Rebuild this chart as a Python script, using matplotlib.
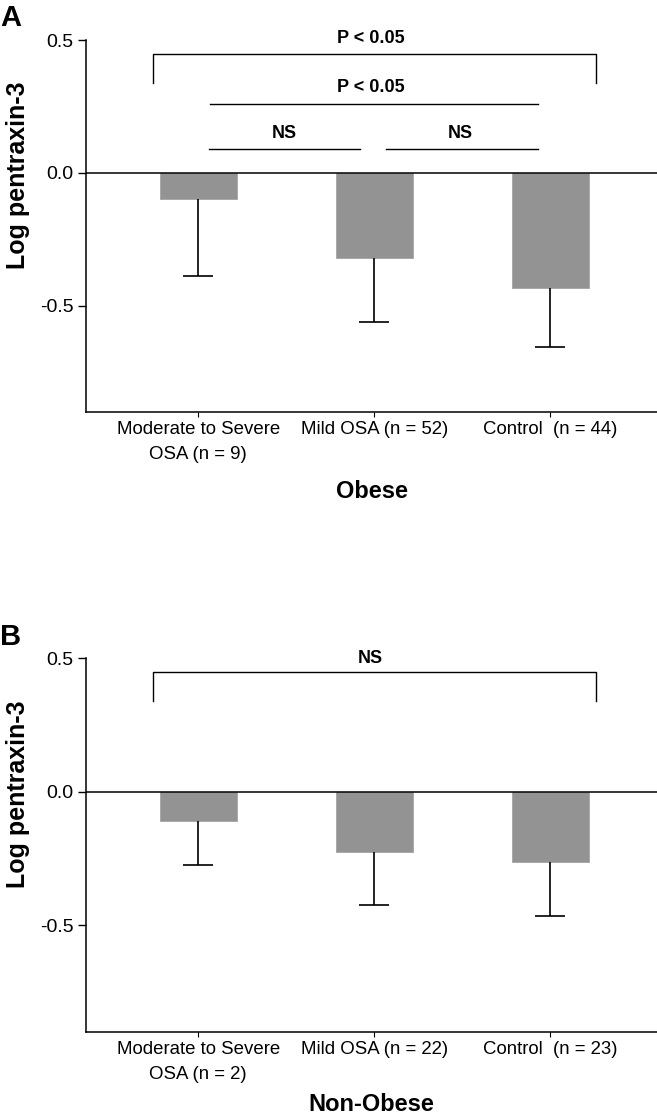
import matplotlib
matplotlib.use("Agg")
import matplotlib.pyplot as plt
import numpy as np

plt.rcParams["font.family"] = ["Liberation Sans Narrow", "Liberation Sans", "DejaVu Sans"]

groups_a = ["Moderate to Severe\nOSA (n = 9)", "Mild OSA (n = 52)", "Control  (n = 44)"]
groups_b = ["Moderate to Severe\nOSA (n = 2)", "Mild OSA (n = 22)", "Control  (n = 23)"]
means_a = [-0.10, -0.322, -0.432]
sem_a = [0.29, 0.24, 0.226]
means_b = [-0.108, -0.225, -0.262]
sem_b = [0.167, 0.20, 0.204]

# significance brackets: (x0, x1, y, drop, label, label_x, label_y)
brackets_a = [
    (-0.257, 2.26, 0.449, 0.11, "P < 0.05", 0.98, 0.506),
]
# plain lines: (x0, x1, y, label, label_x, label_y)
lines_a = [
    (0.064, 1.93, 0.26, "P < 0.05", 0.98, 0.322),
    (0.06, 0.916, 0.09, "NS", 0.486, 0.15),
    (1.064, 1.93, 0.09, "NS", 1.49, 0.15),
]
brackets_b = [
    (-0.257, 2.26, 0.45, 0.11, "NS", 0.98, 0.50),
]
lines_b = []

BAR_COLOR = "#939393"


def draw_panel(ax, labels, means, sem, brackets, lines, xlabel, xlabel_y):
    x = np.arange(len(labels))
    ax.bar(x, means, width=0.4375, color=BAR_COLOR, edgecolor="#a3a3a3", linewidth=0.6, zorder=2)
    eb = ax.errorbar(x, means, yerr=[sem, np.zeros(len(sem))], fmt="none", ecolor="black",
                     elinewidth=1.2, capsize=11, capthick=1.2, zorder=3)
    # only the lower cap is shown
    eb[1][1].set_visible(False)
    ax.axhline(0, color="black", lw=1.1, zorder=4)
    for x0, x1, y, drop, txt, tx, ty in brackets:
        ax.plot([x0, x0, x1, x1], [y - drop, y, y, y - drop], color="black", lw=1.0, clip_on=False)
        ax.text(tx, ty, txt, ha="center", va="center", fontsize=13, fontweight="bold")
    for x0, x1, y, txt, tx, ty in lines:
        ax.plot([x0, x1], [y, y], color="black", lw=1.0)
        ax.text(tx, ty, txt, ha="center", va="center", fontsize=13, fontweight="bold")
    ax.set_xlim(-0.638, 2.606)
    ax.set_ylim(-0.9, 0.5)
    ax.set_yticks([0.5, 0.0, -0.5])
    ax.set_yticklabels(["0.5", "0.0", "-0.5"])
    ax.set_xticks(x)
    ax.set_xticklabels(labels, fontsize=13.4, linespacing=1.6)
    ax.tick_params(axis="y", labelsize=14, length=6, width=1.0, pad=3)
    ax.tick_params(axis="x", length=3.5, width=0.8, pad=3)
    for s in ("top", "right"):
        ax.spines[s].set_visible(False)
    for s in ("left", "bottom"):
        ax.spines[s].set_linewidth(1.1)
    ax.text(-0.119, 0.637, "Log pentraxin-3", transform=ax.transAxes, rotation=90,
            ha="center", va="center", fontsize=18, fontweight="bold")
    ax.text(0.5, xlabel_y, xlabel, transform=ax.transAxes, ha="center", va="center",
            fontsize=17, fontweight="bold")


fig = plt.figure(figsize=(6.57, 11.19), dpi=100)
ax_a = fig.add_axes([0.1309, 0.6321, 0.8691, 0.3319])
ax_b = fig.add_axes([0.1309, 0.0780, 0.8691, 0.3336])

draw_panel(ax_a, groups_a, means_a, sem_a, brackets_a, lines_a, "Obese", -0.215)
draw_panel(ax_b, groups_b, means_b, sem_b, brackets_b, lines_b, "Non-Obese", -0.195)

fig.text(0.0, 1 - 4 / 1119, "A", ha="left", va="top", fontsize=21, fontweight="bold")
fig.text(0.0, 1 - 623 / 1119, "B", ha="left", va="top", fontsize=21, fontweight="bold")

fig.savefig("out.png", dpi=100)
